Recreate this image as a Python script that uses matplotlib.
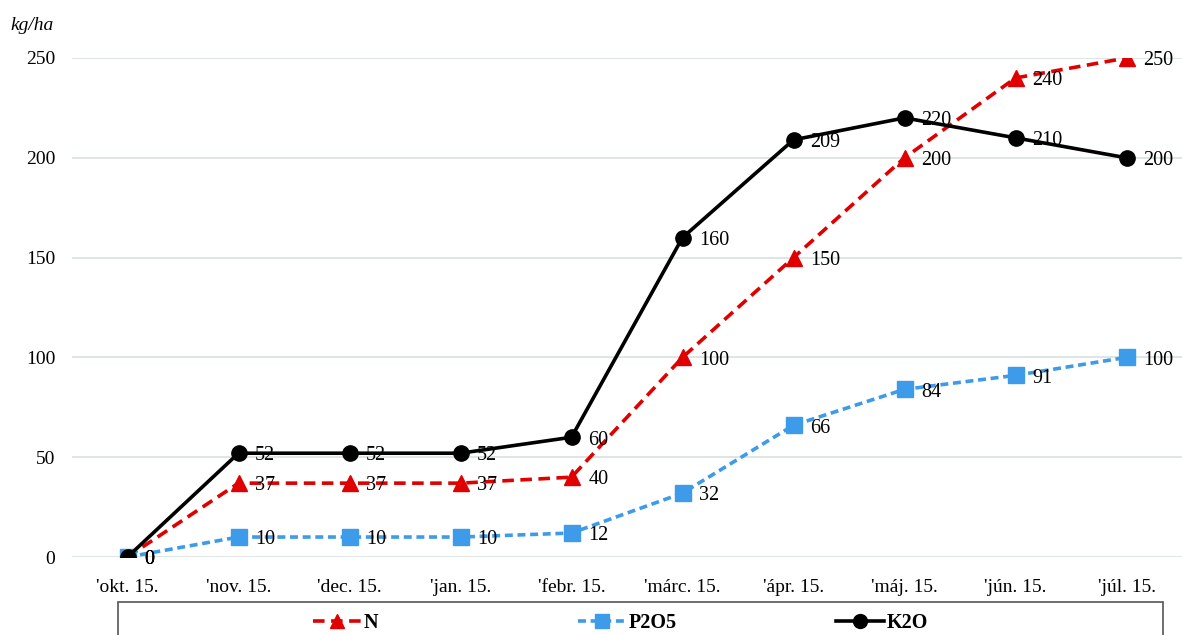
import matplotlib.pyplot as plt
from matplotlib.patches import Rectangle

months = ["'okt. 15.", "'nov. 15.", "'dec. 15.", "'jan. 15.", "'febr. 15.",
          "'márc. 15.", "'ápr. 15.", "'máj. 15.", "'jún. 15.", "'júl. 15."]
n_vals = [0, 37, 37, 37, 40, 100, 150, 200, 240, 250]
p2o5_vals = [0, 10, 10, 10, 12, 32, 66, 84, 91, 100]
k2o_vals = [0, 52, 52, 52, 60, 160, 209, 220, 210, 200]
y_ticks = [0, 50, 100, 150, 200, 250]

plt.rcParams['font.family'] = ['Liberation Serif', 'DejaVu Serif']
fs = 14

fig = plt.figure(figsize=(11.82, 6.35), dpi=100)
ax = fig.add_axes([72 / 1182, 78 / 635, 1110 / 1182, 499 / 635])

x = list(range(len(months)))
series = [
    ('N', n_vals, '#E00000', '^', (0, (3.2, 1.8))),
    ('P2O5', p2o5_vals, '#3D9BE9', 's', (0, (2.2, 1.3))),
    ('K2O', k2o_vals, 'black', 'o', '-'),
]
lines = []
for name, vals, col, mk, ls in series:
    ln, = ax.plot(x, vals, color=col, lw=2.6, ls=ls, marker=mk, ms=11,
                  markeredgecolor=col, markerfacecolor=col, label=name, zorder=3)
    lines.append(ln)
    for xi, v in zip(x, vals):
        ax.annotate(str(v), (xi, v), xytext=(12, -2), textcoords='offset points',
                    ha='left', va='center', fontsize=14.5, color='black', zorder=4)

ax.set_xlim(-0.5, 9.5)
ax.set_ylim(0, 250)
ax.set_yticks(y_ticks)
ax.set_xticks(x)
ax.set_xticklabels(months, fontsize=fs)
ax.tick_params(axis='y', labelsize=fs, length=0, pad=12)
ax.tick_params(axis='x', length=0, pad=16)
ax.grid(axis='y', color='#D8E0E0', lw=1.2, zorder=0)
ax.set_axisbelow(True)
for s in ax.spines.values():
    s.set_visible(False)

fig.text(10 / 1182, 1 - 25 / 635, 'kg/ha', fontsize=fs, style='italic',
         ha='left', va='center')

# legend frame runs past the bottom edge
fig.patches.append(Rectangle((118 / 1182, -0.05), 1045 / 1182, 0.05 + 33 / 635,
                             transform=fig.transFigure, fill=False,
                             edgecolor='#555555', lw=1.2))

# one legend per series so each entry sits at its own spot
for ln, x0 in zip(lines, [313, 578, 836]):
    leg = fig.legend(handles=[ln], loc='center left',
                     bbox_to_anchor=(x0 / 1182, 1 - 623 / 635),
                     frameon=False, handlelength=2.4, handletextpad=0.1,
                     borderpad=0, borderaxespad=0,
                     prop={'weight': 'bold', 'size': 14.5})
    leg.legend_handles[0].set_markersize(10)

fig.savefig('out.png', dpi=100)
